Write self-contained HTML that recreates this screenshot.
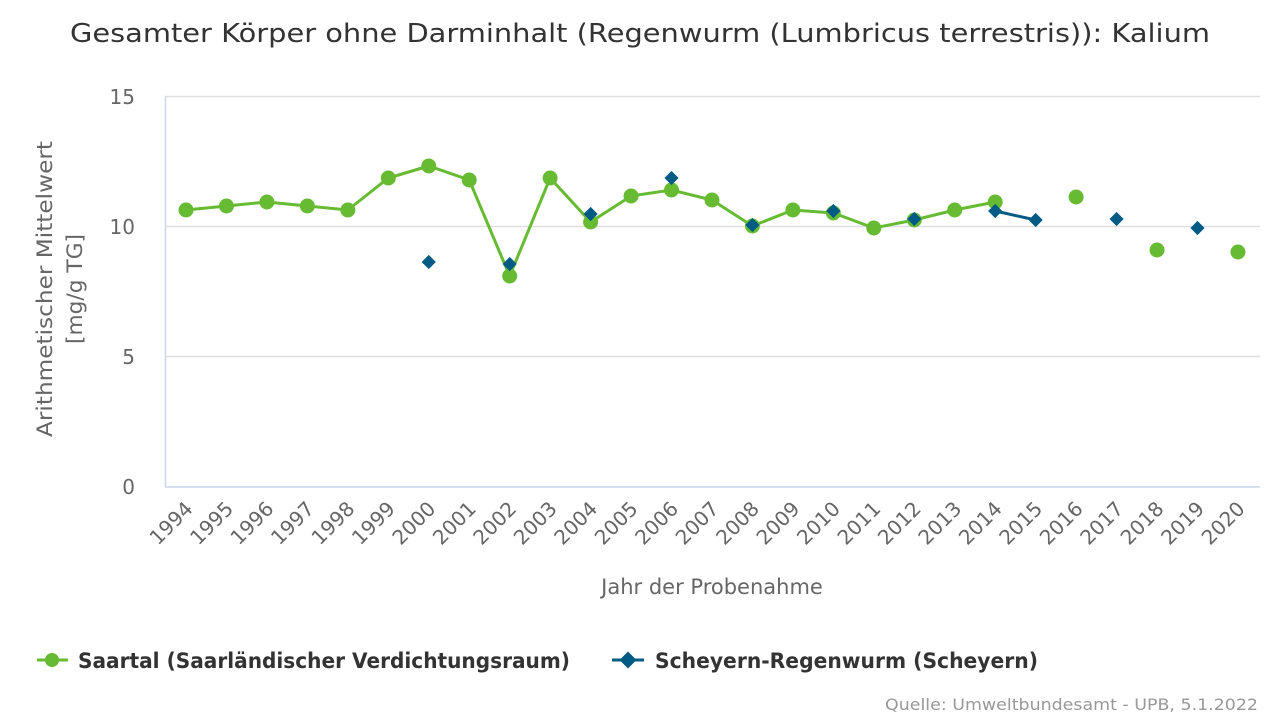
<!DOCTYPE html>
<html><head><meta charset="utf-8"><style>
body{margin:0;background:#fff;}
svg{display:block;font-family:"DejaVu Sans","Liberation Sans",sans-serif;}
</style></head><body>
<svg id="s" width="1280" height="720" xmlns="http://www.w3.org/2000/svg">
<text x="70" y="42" font-size="26" fill="#333" textLength="1140" lengthAdjust="spacingAndGlyphs">Gesamter Körper ohne Darminhalt (Regenwurm (Lumbricus terrestris)): Kalium</text>
<g stroke="#e0e0e0" stroke-width="1.5">
<line x1="165" x2="1260" y1="96.5" y2="96.5"/><line x1="165" x2="1260" y1="226.5" y2="226.5"/><line x1="165" x2="1260" y1="356.5" y2="356.5"/>
</g>
<line x1="165" x2="1260" y1="487" y2="487" stroke="#ccd6eb" stroke-width="1.5"/>
<line x1="165.5" x2="165.5" y1="96" y2="487" stroke="#ccd6eb" stroke-width="1.5"/>
<g font-size="20" fill="#666" text-anchor="end">
<text x="135" y="104">15</text><text x="135" y="234">10</text><text x="135" y="364">5</text><text x="135" y="494">0</text>
</g>
<text transform="translate(52,289) rotate(-90)" text-anchor="middle" font-size="21" fill="#666" textLength="296" lengthAdjust="spacingAndGlyphs">Arithmetischer Mittelwert</text>
<text transform="translate(82,289) rotate(-90)" text-anchor="middle" font-size="21" fill="#666" textLength="110" lengthAdjust="spacingAndGlyphs">[mg/g TG]</text>
<g id="xl" font-size="20" fill="#666" text-anchor="end"></g>
<text x="712" y="594" text-anchor="middle" font-size="21" fill="#666">Jahr der Probenahme</text>
<g id="series"></g>
<line x1="37" x2="68" y1="660" y2="660" stroke="#66bb33" stroke-width="3"/><circle cx="52" cy="660" r="7" fill="#66bb33"/>
<text x="78" y="668" font-size="21" font-weight="bold" fill="#333" textLength="492" lengthAdjust="spacingAndGlyphs">Saartal (Saarländischer Verdichtungsraum)</text>
<line x1="612" x2="644" y1="660" y2="660" stroke="#005b84" stroke-width="3"/><rect x="622" y="654" width="12" height="12" fill="#005b84" transform="rotate(45 628 660)"/>
<text x="655" y="668" font-size="21" font-weight="bold" fill="#333" textLength="383" lengthAdjust="spacingAndGlyphs">Scheyern-Regenwurm (Scheyern)</text>
<text x="885" y="710" font-size="16" fill="#999" textLength="373" lengthAdjust="spacingAndGlyphs">Quelle: Umweltbundesamt - UPB, 5.1.2022</text>
</svg>
<script>
var NS="http://www.w3.org/2000/svg";
function X(y){return 186+(y-1994)*40.46;}
var xl=document.getElementById("xl");
for(var y=1994;y<=2020;y++){var t=document.createElementNS(NS,"text");var x=X(y)+8;t.setAttribute("transform","translate("+x+",510) rotate(-45)");t.textContent=y;xl.appendChild(t);}
var g=document.getElementById("series");
var sa=[[1994,210],[1995,206],[1996,202],[1997,206],[1998,210],[1999,178],[2000,166],[2001,180],[2002,276],[2003,178],[2004,222],[2005,196],[2006,190],[2007,200],[2008,226],[2009,210],[2010,213],[2011,228],[2012,220],[2013,210],[2014,202]];
var sai=[[2016,197],[2018,250],[2020,252]];
var sc=[[2000,262],[2002,264],[2004,214],[2006,178],[2008,225],[2010,211],[2012,219],[2014,211],[2015,220],[2017,219],[2019,228]];
var h="";
h+='<polyline fill="none" stroke="#66bb33" stroke-width="3" points="'+sa.map(function(p){return X(p[0])+","+p[1]}).join(" ")+'"/>';
sa.concat(sai).forEach(function(p){h+='<circle cx="'+X(p[0])+'" cy="'+p[1]+'" r="7.5" fill="#66bb33"/>';});
h+='<line x1="'+X(2014)+'" y1="211" x2="'+X(2015)+'" y2="220" stroke="#005b84" stroke-width="3"/>';
sc.forEach(function(p){var x=X(p[0]);h+='<rect x="'+(x-5)+'" y="'+(p[1]-5)+'" width="10" height="10" fill="#005b84" transform="rotate(45 '+x+' '+p[1]+')"/>';});
g.innerHTML=h;
</script>
</body></html>
